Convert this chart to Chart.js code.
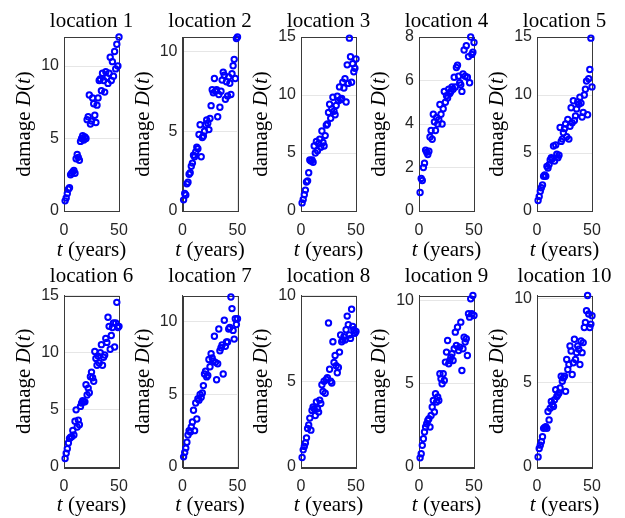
<!DOCTYPE html>
<html>
<head>
<meta charset="utf-8">
<script src="https://cdn.jsdelivr.net/npm/chart.js@4.4.1/dist/chart.umd.min.js"></script>
<style>
	body { margin: 0; background: #fff; }
	#panels { position: relative; width: 625px; height: 518px; }
	#panels canvas { position: absolute; left: 0; top: 0; }
</style>
</head>
<body>
<div id="panels"></div>
<script>
// inspection years
var years = [1, 2, 3, 4, 5, 6, 7, 8, 9, 10,
	11, 12, 13, 14, 15, 16, 17, 18, 19, 20,
	21, 22, 23, 24, 25, 26, 27, 28, 29, 30,
	31, 32, 33, 34, 35, 36, 37, 38, 39, 40,
	41, 42, 43, 44, 45, 46, 47, 48, 49, 50];

// measured damage per location
var damage1 = [0.7, 0.9, 1.2, 1.5, 1.6, 2.5, 2.6, 2.7, 2.8, 2.6,
	3.6, 3.9, 3.7, 3.5, 4.8, 5.0, 5.2, 4.9, 5.1, 5.0,
	6.3, 6.5, 8.0, 6.0, 6.2, 7.8, 7.4, 6.6, 6.1, 7.3,
	7.8, 9.0, 9.1, 8.3, 9.5, 9.0, 8.2, 9.6, 9.2, 8.8,
	9.5, 10.6, 9.0, 10.3, 9.3, 11.0, 9.8, 11.5, 10.0, 12.0];
var damage2 = [0.7, 1.1, 1.0, 1.7, 1.8, 2.3, 2.4, 2.8, 3.0, 3.5,
	3.4, 3.7, 4.0, 3.9, 4.8, 5.4, 3.4, 4.6, 4.7, 5.0,
	5.4, 5.7, 5.5, 5.1, 5.8, 6.6, 7.6, 7.4, 8.3, 7.5,
	7.6, 5.9, 7.3, 6.5, 7.5, 8.2, 8.7, 8.5, 7.0, 8.1,
	7.2, 8.4, 8.0, 7.3, 8.6, 9.1, 9.5, 8.3, 10.8, 10.9];
var damage3 = [0.7, 1.0, 1.4, 1.8, 2.5, 2.6, 3.3, 4.4, 4.3, 4.4,
	4.2, 5.6, 5.0, 6.0, 5.2, 5.8, 6.2, 5.5, 6.9, 5.9,
	5.6, 6.5, 7.4, 7.5, 8.5, 9.2, 8.0, 8.8, 9.8, 8.6,
	8.3, 9.1, 9.9, 9.5, 10.7, 9.6, 9.7, 11.1, 10.6, 11.4,
	9.4, 12.6, 11.0, 14.9, 13.3, 11.1, 12.7, 12.0, 12.3, 13.1];
var damage4 = [0.85, 1.5, 1.4, 2.0, 2.2, 2.8, 2.7, 2.6, 2.75, 3.4,
	3.7, 3.3, 4.45, 4.1, 3.7, 4.3, 4.0, 4.2, 4.9, 4.45,
	4.0, 4.7, 5.5, 5.0, 5.3, 5.2, 5.6, 5.4, 5.5, 5.7,
	5.6, 6.15, 5.7, 6.6, 6.7, 6.2, 5.9, 5.8, 5.5, 6.3,
	7.4, 6.2, 7.6, 6.15, 7.1, 5.9, 8.0, 7.2, 7.3, 7.75];
var damage5 = [0.9, 1.25, 1.7, 2.0, 2.25, 3.0, 3.1, 3.0, 3.85, 3.7,
	4.0, 4.4, 4.6, 4.5, 5.6, 4.3, 5.7, 4.9, 4.6, 4.8,
	7.2, 6.0, 6.2, 6.75, 7.1, 7.5, 6.4, 7.9, 6.2, 7.3,
	8.9, 7.6, 9.5, 7.8, 8.2, 8.8, 9.4, 9.2, 9.8, 9.3,
	8.1, 8.5, 10.0, 10.5, 11.2, 8.3, 11.4, 12.2, 14.9, 10.7];
var damage6 = [0.75, 1.2, 1.6, 2.1, 2.5, 2.6, 2.65, 3.2, 2.8, 4.0,
	5.0, 3.5, 4.1, 3.7, 5.3, 5.6, 5.8, 5.7, 5.7, 7.2,
	6.3, 6.9, 6.5, 7.9, 8.3, 7.8, 7.5, 10.1, 9.5, 8.9,
	9.7, 9.1, 10.0, 10.7, 8.9, 9.6, 9.8, 11.25, 10.9, 13.1,
	12.3, 10.3, 11.5, 12.2, 12.6, 10.5, 12.6, 14.4, 12.2, 12.3];
var damage7 = [0.7, 1.0, 1.3, 1.7, 2.2, 2.5, 2.4, 2.75, 3.1, 3.9,
	2.5, 4.4, 3.3, 4.7, 4.6, 5.0, 4.8, 5.1, 5.6, 6.4,
	6.6, 6.2, 6.3, 7.4, 6.9, 7.8, 7.5, 7.3, 9.0, 7.2,
	6.0, 7.1, 9.5, 8.0, 8.2, 8.4, 6.4, 10.1, 8.3, 8.6,
	8.6, 9.5, 9.6, 11.7, 10.9, 9.4, 8.8, 10.2, 9.8, 10.2];
var damage8 = [0.55, 1.0, 1.2, 1.4, 1.7, 2.25, 2.45, 2.85, 2.15, 3.3,
	3.5, 3.4, 3.0, 3.8, 3.4, 3.2, 3.9, 3.7, 4.8, 4.4,
	5.0, 4.3, 5.1, 5.2, 8.4, 5.7, 5.0, 4.9, 7.3, 6.1,
	6.5, 5.9, 5.5, 5.8, 6.7, 7.7, 7.3, 7.4, 7.6, 7.4,
	8.0, 8.8, 8.3, 7.7, 7.5, 9.2, 8.2, 8.0, 7.8, 7.9];
var damage9 = [0.55, 0.8, 1.3, 1.7, 2.1, 2.4, 2.6, 2.8, 2.9, 2.4,
	3.1, 3.6, 4.0, 3.3, 4.4, 3.9, 4.2, 4.0, 5.6, 5.3,
	5.0, 5.6, 5.2, 6.3, 6.9, 7.6, 6.2, 6.4, 6.6, 6.8,
	6.4, 7.1, 8.1, 7.3, 8.4, 7.0, 7.2, 8.7, 5.8, 7.1,
	7.8, 7.5, 7.7, 6.7, 9.2, 9.0, 10.1, 9.2, 10.3, 9.1];
var damage10 = [0.6, 1.1, 1.3, 1.5, 1.8, 2.3, 2.35, 2.4, 2.3, 3.3,
	2.8, 3.5, 3.9, 3.7, 3.6, 4.0, 4.6, 4.2, 4.3, 4.4,
	4.7, 5.4, 5.1, 5.3, 5.4, 4.5, 6.4, 5.8, 6.1, 7.2,
	6.9, 5.5, 6.2, 7.6, 6.4, 6.8, 7.2, 7.0, 6.1, 7.5,
	6.8, 7.4, 8.3, 8.6, 9.3, 10.2, 9.1, 8.3, 8.5, 9.0];

var locations = ["location 1", "location 2", "location 3", "location 4", "location 5",
	"location 6", "location 7", "location 8", "location 9", "location 10"];
var damageMax = [12, 10.9, 15, 8, 15, 15, 11.8, 10, 10.3, 10.2];
var damageStep = [5, 5, 5, 2, 5, 5, 5, 5, 5, 5];
var yearMin = 0;
var yearMax = 50;

var allDamage = [damage1, damage2, damage3, damage4, damage5,
	damage6, damage7, damage8, damage9, damage10];

// subplot grid geometry
var colLeft = [64, 182.5, 301, 419, 537];
var rowTop = [37, 295.5];
var rowBottom = [211, 467];
var rowTitleY = [27, 282];
var rowXLabelY = [256, 511];
var plotW = 55;
var yAxisW = 30;
var xAxisH = 40;

var serif = '"Liberation Serif", "Times New Roman", serif';
var sans = '"Liberation Sans", Arial, Helvetica, sans-serif';
var tickColor = "#262626";

// draws text pieces in a row, some italic, centred on x
function drawPieces(ctx, pieces, x, y, size) {
	var total = 0;
	pieces.forEach(function(p) {
		ctx.font = (p[1] ? "italic " : "") + size + "px " + serif;
		total += ctx.measureText(p[0]).width;
	});
	var cx = x - total / 2;
	pieces.forEach(function(p) {
		ctx.font = (p[1] ? "italic " : "") + size + "px " + serif;
		ctx.fillText(p[0], cx, y);
		cx += ctx.measureText(p[0]).width;
	});
}

// box around the axes, plus title and axis labels
var panelText = {
	id: "panelText",
	beforeDatasetsDraw: function(chart) {
		var a = chart.chartArea;
		var ctx = chart.ctx;
		ctx.save();
		ctx.strokeStyle = "#3a3a3a";
		ctx.lineWidth = 1;
		ctx.strokeRect(Math.round(a.left) + 0.5, Math.round(a.top) + 0.5,
			Math.round(a.right - a.left), Math.round(a.bottom - a.top));
		ctx.restore();
	},
	afterDraw: function(chart, args, opts) {
		var a = chart.chartArea;
		var ctx = chart.ctx;
		var midX = (a.left + a.right) / 2;
		ctx.save();
		ctx.fillStyle = "#000";
		ctx.textBaseline = "alphabetic";
		ctx.textAlign = "left";
		drawPieces(ctx, [[opts.title, false]], midX, opts.titleY, 21);
		drawPieces(ctx, [["t", true], [" (years)", false]], midX, opts.xLabelY, 21);
		ctx.translate(a.left - 34, (a.top + a.bottom) / 2);
		ctx.rotate(-Math.PI / 2);
		drawPieces(ctx, [["damage ", false], ["D", true], ["(", false], ["t", true], [")", false]], 0, 0, 21);
		ctx.restore();
	}
};

var holder = document.getElementById("panels");

function makePanel(k) {
	var row = Math.floor(k / 5);
	var col = k % 5;
	var plotLeft = colLeft[col];
	var plotTop = rowTop[row];
	var plotBottom = rowBottom[row];

	var canvas = document.createElement("canvas");
	canvas.width = 625;
	canvas.height = 518;
	holder.appendChild(canvas);

	var points = [];
	for (var i in years) {
		points.push({x: years[i], y: allDamage[k][i]});
	}

	return new Chart(canvas, {
		type: "scatter",
		data: {
			datasets: [{
				label: locations[k],
				data: points,
				pointStyle: "circle",
				pointRadius: 2.7,
				pointBorderWidth: 2,
				pointBorderColor: "#0000ff",
				pointBackgroundColor: "rgba(0, 0, 0, 0)",
				clip: false
			}]
		},
		options: {
			responsive: false,
			animation: false,
			events: [],
			layout: {
				padding: {
					left: plotLeft - yAxisW,
					top: plotTop,
					right: 625 - plotLeft - plotW,
					bottom: 518 - plotBottom - xAxisH
				}
			},
			plugins: {
				legend: {display: false},
				tooltip: {enabled: false},
				panelText: {
					title: locations[k],
					titleY: rowTitleY[row],
					xLabelY: rowXLabelY[row]
				}
			},
			scales: {
				x: {
					type: "linear",
					min: yearMin,
					max: yearMax,
					afterFit: function(s) { s.height = xAxisH; },
					ticks: {
						stepSize: 50,
						maxRotation: 0,
						autoSkip: false,
						padding: 10,
						color: tickColor,
						font: {family: sans, size: 16}
					},
					grid: {color: "#e6e6e6", drawTicks: false},
					border: {color: "#3a3a3a"}
				},
				y: {
					type: "linear",
					min: 0,
					max: damageMax[k],
					afterFit: function(s) { s.width = yAxisW; },
					ticks: {
						stepSize: damageStep[k],
						includeBounds: false,
						padding: 5,
						color: tickColor,
						font: {family: sans, size: 16}
					},
					grid: {color: "#e6e6e6", drawTicks: false},
					border: {color: "#3a3a3a"}
				}
			}
		},
		plugins: [panelText]
	});
}

for (var k = 0; k < 10; k++) {
	makePanel(k);
}
</script>
</body>
</html>
